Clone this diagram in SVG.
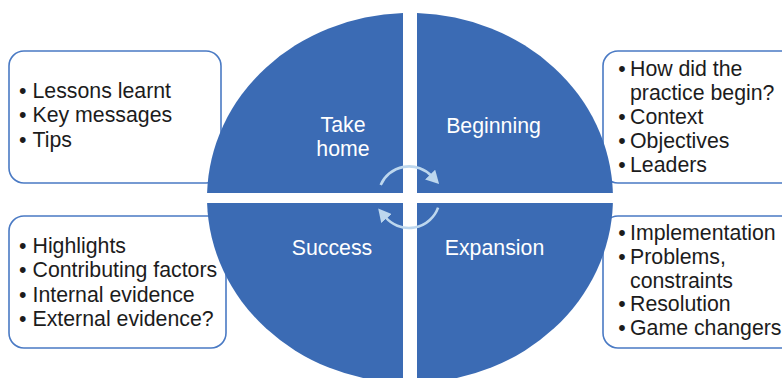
<svg xmlns="http://www.w3.org/2000/svg" width="782" height="378" viewBox="0 0 782 378">
<style>
.box{fill:#fff;stroke:#4A7AC4;stroke-width:1.6}
.q{fill:#3B6BB4}
.t{font-family:"Liberation Sans",Arial,sans-serif;font-size:21.3px;fill:#1c1c1c}
.ql{font-family:"Liberation Sans",Arial,sans-serif;font-size:21.3px;fill:#fff;text-anchor:middle}
.cyc{fill:none;stroke:#BDD7EE;stroke-width:2.6}
</style>
<defs>
<marker id="ah" markerUnits="userSpaceOnUse" markerWidth="14" markerHeight="14" refX="2" refY="7" orient="auto">
<path d="M0,0 L13,7 L0,14 z" fill="#BDD7EE"/>
</marker>
</defs>
<rect width="782" height="378" fill="#fff"/>
<g id="box-take-home">
<rect class="box" x="9" y="51" width="212" height="132" rx="15"/>
<text class="t" x="19" y="98">•</text><text class="t" x="32.5" y="98">Lessons learnt</text>
<text class="t" x="19" y="122.3">•</text><text class="t" x="32.5" y="122.3">Key messages</text>
<text class="t" x="19" y="146.6">•</text><text class="t" x="32.5" y="146.6">Tips</text>
</g>
<g id="box-success">
<rect class="box" x="9" y="216" width="217" height="132" rx="15"/>
<text class="t" x="19" y="253">•</text><text class="t" x="32.5" y="253">Highlights</text>
<text class="t" x="19" y="277.3">•</text><text class="t" x="32.5" y="277.3">Contributing factors</text>
<text class="t" x="19" y="301.6">•</text><text class="t" x="32.5" y="301.6">Internal evidence</text>
<text class="t" x="19" y="325.9">•</text><text class="t" x="32.5" y="325.9">External evidence?</text>
</g>
<g id="box-beginning">
<rect class="box" x="603" y="51" width="200" height="132" rx="15"/>
<text class="t" x="618.3" y="75.5">•</text><text class="t" x="630" y="75.5">How did the</text>
<text class="t" x="630" y="99.6">practice begin?</text>
<text class="t" x="618.3" y="123.7">•</text><text class="t" x="630" y="123.7">Context</text>
<text class="t" x="618.3" y="147.8">•</text><text class="t" x="630" y="147.8">Objectives</text>
<text class="t" x="618.3" y="171.9">•</text><text class="t" x="630" y="171.9">Leaders</text>
</g>
<g id="box-expansion">
<rect class="box" x="603" y="216" width="200" height="132" rx="15"/>
<text class="t" x="618.3" y="240">•</text><text class="t" x="630" y="240">Implementation</text>
<text class="t" x="618.3" y="263.8">•</text><text class="t" x="630" y="263.8">Problems,</text>
<text class="t" x="630" y="287.6">constraints</text>
<text class="t" x="618.3" y="311.4">•</text><text class="t" x="630" y="311.4">Resolution</text>
<text class="t" x="618.3" y="335.2">•</text><text class="t" x="630" y="335.2">Game changers</text>
</g>
<g id="q-take-home">
<path class="q" d="M403,193 L403,13.1 A203,185 0 0 0 207.1,193 Z"/>
<text class="ql" x="343" y="132.3">Take</text>
<text class="ql" x="343" y="155.7">home</text>
</g>
<g id="q-beginning">
<path class="q" d="M417,193 L417,13.1 A203,185 0 0 1 612.9,193 Z"/>
<text class="ql" x="493.5" y="133">Beginning</text>
</g>
<g id="q-success">
<path class="q" d="M403,203 L207.1,203 A203,185 0 0 0 403,382.9 Z"/>
<text class="ql" x="332" y="255">Success</text>
</g>
<g id="q-expansion">
<path class="q" d="M417,203 L417,382.9 A203,185 0 0 0 612.9,203 Z"/>
<text class="ql" x="494.5" y="255">Expansion</text>
</g>
<g id="connectors">
<path class="cyc" d="M380.7,184.9 A31,31 0 0 1 431.5,176" marker-end="url(#ah)"/>
<path class="cyc" d="M438.1,207.6 A31,31 0 0 1 385.3,217" marker-end="url(#ah)"/>
</g>
</svg>
